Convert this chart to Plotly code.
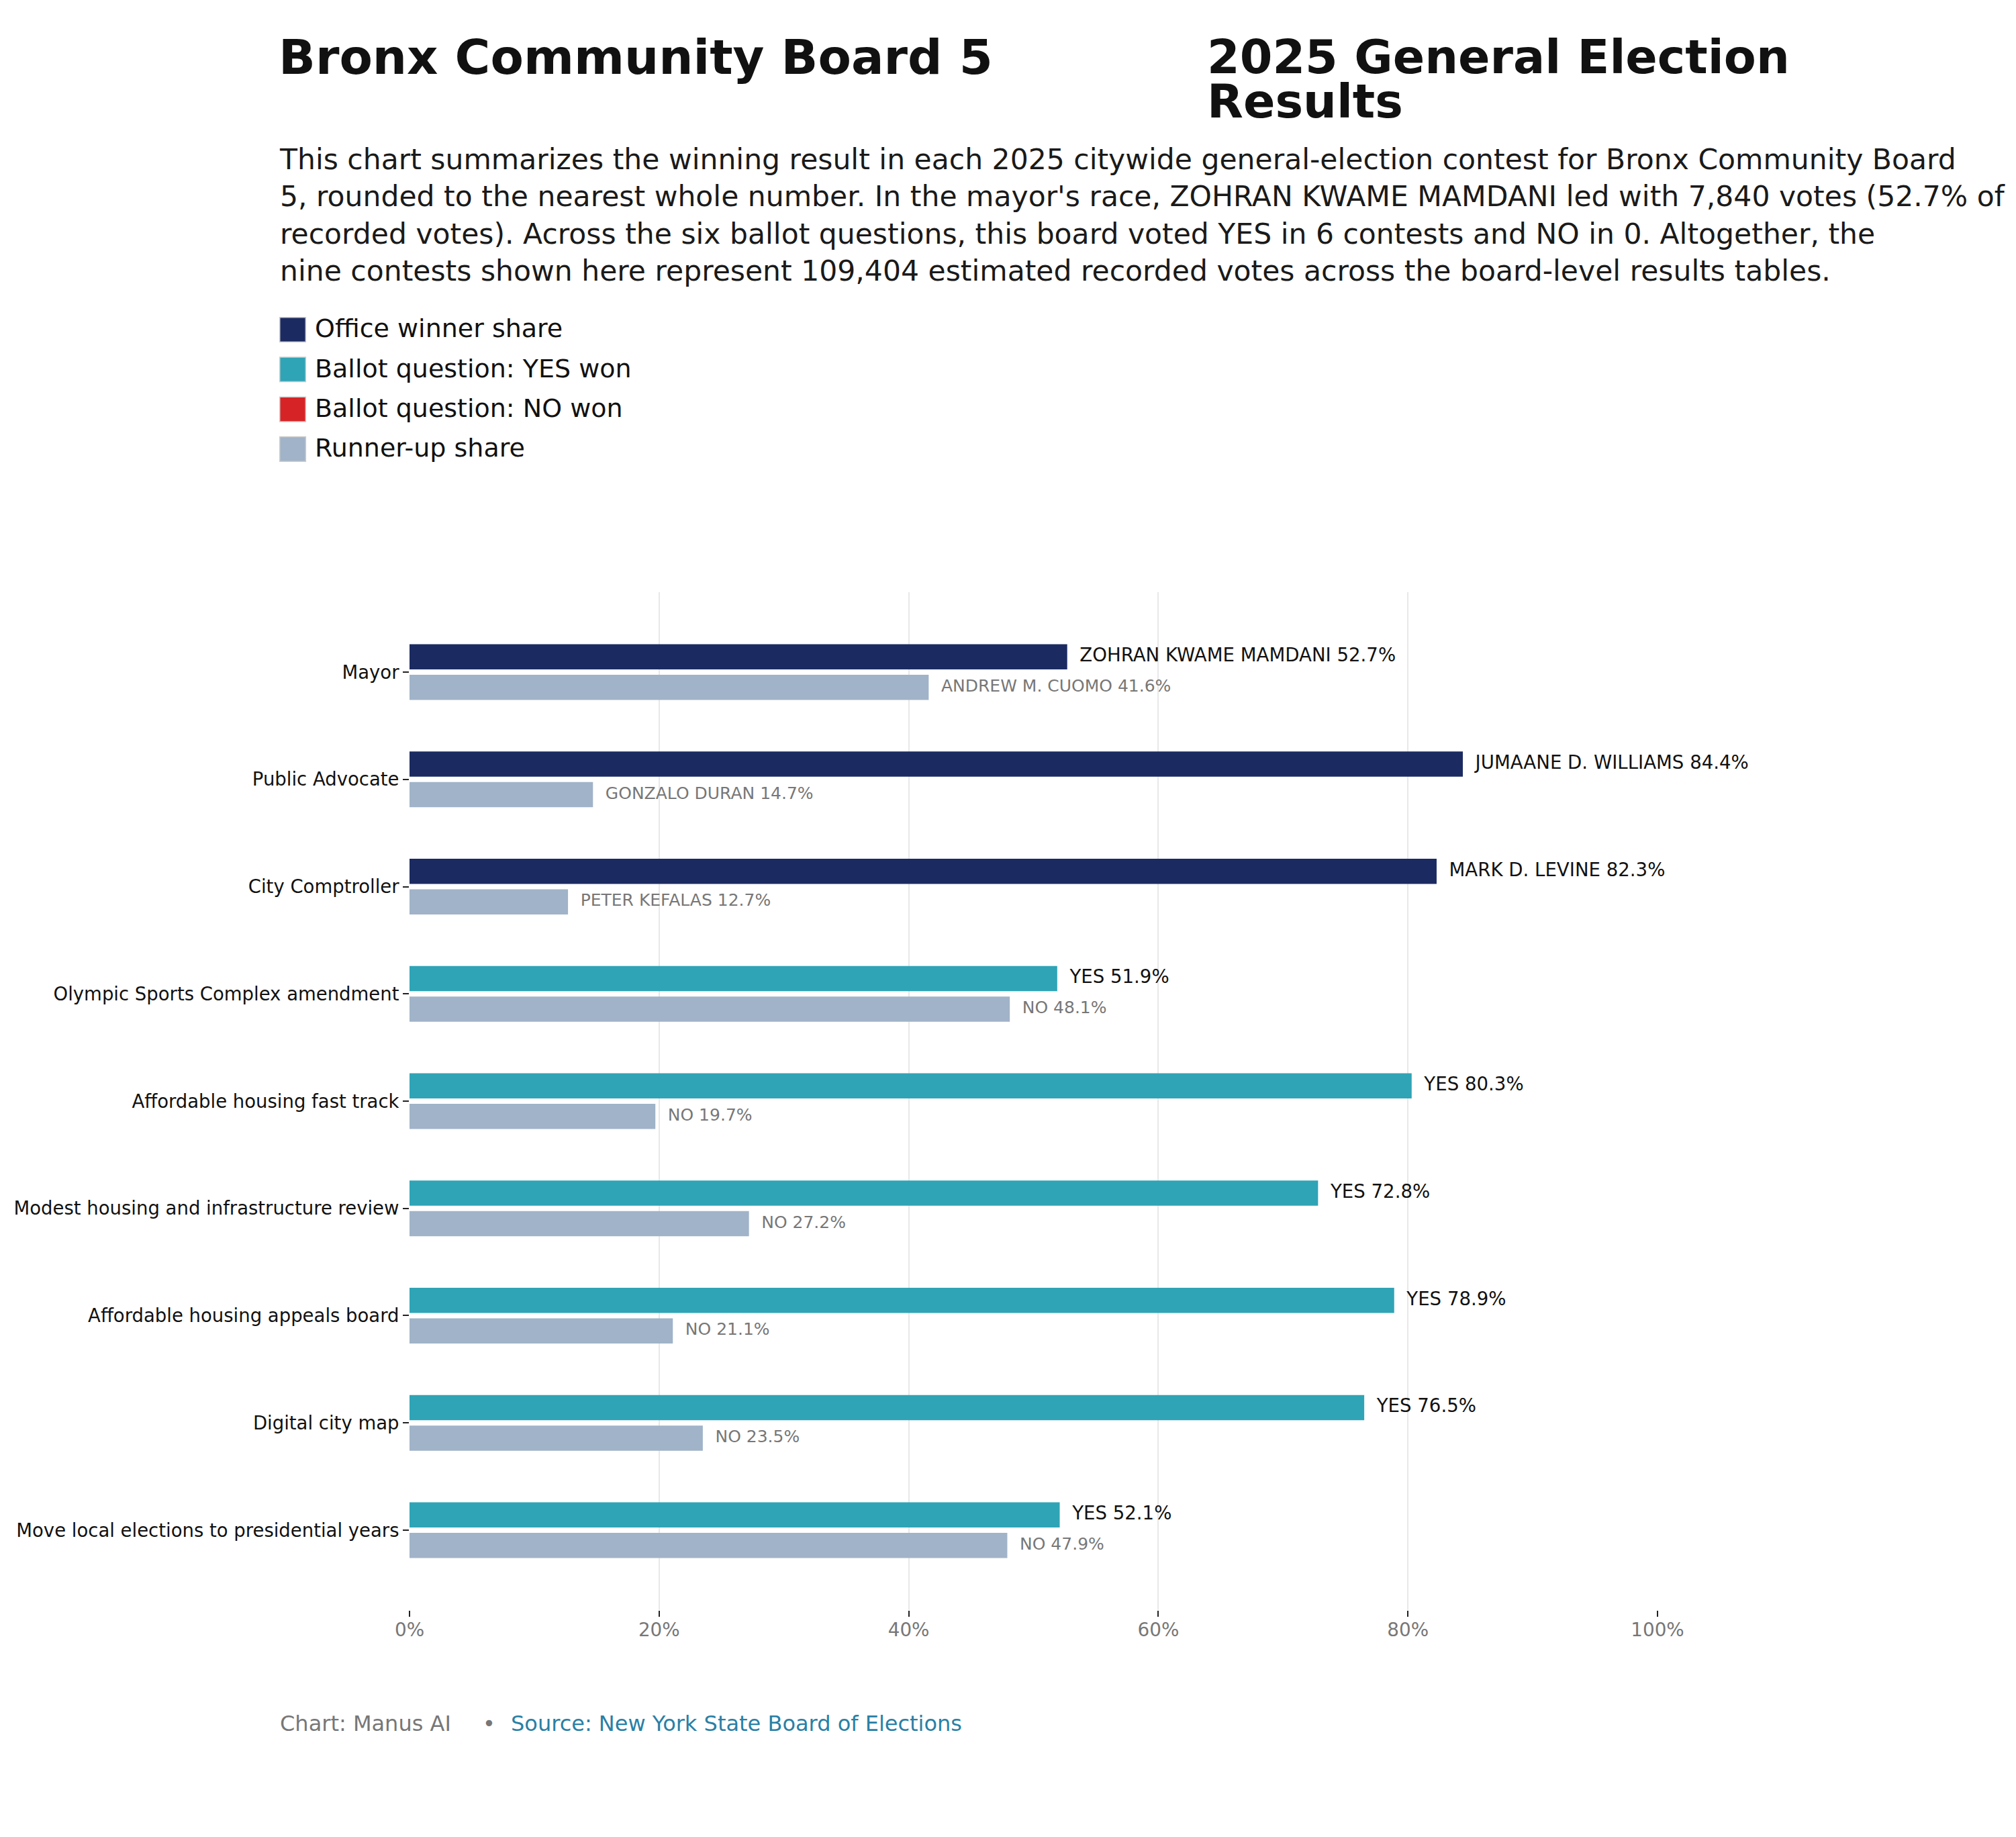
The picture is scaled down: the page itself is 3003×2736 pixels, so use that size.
import numpy as np
import plotly.graph_objects as go

# ---------------- data ----------------
categories = [
    "Mayor",
    "Public Advocate",
    "City Comptroller",
    "Olympic Sports Complex amendment",
    "Affordable housing fast track",
    "Modest housing and infrastructure review",
    "Affordable housing appeals board",
    "Digital city map",
    "Move local elections to presidential years",
]
contest_kind = ["office", "office", "office", "yes", "yes", "yes", "yes", "yes", "yes"]
winner_names = ["ZOHRAN KWAME MAMDANI", "JUMAANE D. WILLIAMS", "MARK D. LEVINE",
                "YES", "YES", "YES", "YES", "YES", "YES"]
winner_share = [52.7, 84.4, 82.3, 51.9, 80.3, 72.8, 78.9, 76.5, 52.1]
runner_names = ["ANDREW M. CUOMO", "GONZALO DURAN", "PETER KEFALAS",
                "NO", "NO", "NO", "NO", "NO", "NO"]
runner_share = [41.6, 14.7, 12.7, 48.1, 19.7, 27.2, 21.1, 23.5, 47.9]
x_ticks = [0, 20, 40, 60, 80, 100]
x_tick_labels = ["0%", "20%", "40%", "60%", "80%", "100%"]
legend_labels = ["Office winner share", "Ballot question: YES won",
                 "Ballot question: NO won", "Runner-up share"]

# ---------------- style ----------------
NAVY = "#1b2a61"
TEAL = "#2fa4b6"
RED = "#d62426"
RUNNER = "#a0b3c8"
kind_color = {"office": NAVY, "yes": TEAL, "no": RED}
legend_colors = [NAVY, TEAL, RED, RUNNER]
FONT = "DejaVu Sans"

W, H = 3003, 2736
PL, PR, PT, PB = 610, 2469.5, 882, 2398   # plot area in pixels

def px_x(px):
    return (px - PL) / (PR - PL)

def px_y(py):
    return (PB - py) / (PB - PT)

def ann(text, px, py, size, color, xanchor="left", yanchor="top"):
    return dict(text=text, x=px_x(px), y=px_y(py), xref="paper", yref="paper",
                xanchor=xanchor, yanchor=yanchor, showarrow=False, align="left",
                font=dict(family=FONT, size=size, color=color))

pos = np.arange(len(categories))
OFF = 0.142
BW = 0.235
win_y = pos - OFF
run_y = pos + OFF

fig = go.Figure()
fig.add_trace(go.Bar(
    orientation="h", x=winner_share, y=win_y, width=BW,
    marker=dict(color=[kind_color[k] for k in contest_kind], line=dict(width=0)),
    hoverinfo="skip", showlegend=False))
fig.add_trace(go.Bar(
    orientation="h", x=runner_share, y=run_y, width=BW,
    marker=dict(color=RUNNER, line=dict(width=0)),
    hoverinfo="skip", showlegend=False))
fig.add_trace(go.Scatter(
    mode="text", x=[v + 1 for v in winner_share], y=win_y,
    text=[f"{n} {v:.1f}%" for n, v in zip(winner_names, winner_share)],
    textposition="middle right", textfont=dict(family=FONT, size=27.6, color="#111111"),
    cliponaxis=False, hoverinfo="skip", showlegend=False))
fig.add_trace(go.Scatter(
    mode="text", x=[v + 1 for v in runner_share], y=run_y,
    text=[f"{n} {v:.1f}%" for n, v in zip(runner_names, runner_share)],
    textposition="middle right", textfont=dict(family=FONT, size=25, color="#777777"),
    cliponaxis=False, hoverinfo="skip", showlegend=False))

annotations = []
annotations.append(ann("<b>Bronx Community Board 5</b>", 413, 41.5, 72, "#111111"))
annotations.append(ann("<b>2025 General Election</b>", 1796, 42, 70, "#111111"))
annotations.append(ann("<b>Results</b>", 1796, 108.5, 70, "#111111"))

paragraph = (
    "This chart summarizes the winning result in each 2025 citywide general-election contest for Bronx Community Board<br>"
    "5, rounded to the nearest whole number. In the mayor's race, ZOHRAN KWAME MAMDANI led with 7,840 votes (52.7% of<br>"
    "recorded votes). Across the six ballot questions, this board voted YES in 6 contests and NO in 0. Altogether, the<br>"
    "nine contests shown here represent 109,404 estimated recorded votes across the board-level results tables."
)
annotations.append(ann(paragraph, 414, 211, 42.5, "#1a1a1a"))

shapes = []
for i, (lab, col) in enumerate(zip(legend_labels, legend_colors)):
    y0 = 472.7 + 59.3 * i
    shapes.append(dict(type="rect", xref="paper", yref="paper",
                       x0=px_x(416.7), x1=px_x(455.3), y0=px_y(y0), y1=px_y(y0 + 36.6),
                       fillcolor=col, line=dict(color="#cccccc", width=1.5)))
    annotations.append(ann(lab, 467, 465.4 + 59.3 * i, 38, "#111111"))

annotations.append(ann("Chart: Manus AI", 414.5, 2546, 32, "#777777"))
annotations.append(ann("•", 728.4, 2546, 32, "#777777", xanchor="center"))
annotations.append(ann("Source: New York State Board of Elections", 759, 2546, 32, "#2a80a5"))

fig.update_layout(
    width=W, height=H,
    margin=dict(l=PL, r=W - PR, t=PT, b=H - PB, pad=0),
    plot_bgcolor="white", paper_bgcolor="white",
    font=dict(family=FONT, color="#111111"),
    barmode="overlay",
    annotations=annotations, shapes=shapes,
    xaxis=dict(range=[0, 100], tickvals=x_ticks, ticktext=x_tick_labels,
               showgrid=True, gridcolor="#e8e8e8", gridwidth=2, zeroline=False,
               showline=False, ticks="outside", ticklen=9, tickwidth=2, tickcolor="#222222",
               ticklabelstandoff=-4,
               tickfont=dict(family=FONT, size=27.8, color="#777777")),
    yaxis=dict(range=[len(categories) - 1 + 0.745, -0.745], tickvals=pos, ticktext=categories,
               showgrid=False, zeroline=False, showline=False,
               ticks="outside", ticklen=9, tickwidth=2, tickcolor="#222222",
               tickfont=dict(family=FONT, size=27.5, color="#111111")),
)

fig.write_html("out.html", config={"displayModeBar": False},
               post_script="document.body.style.margin='0';document.body.style.overflow='hidden';")
